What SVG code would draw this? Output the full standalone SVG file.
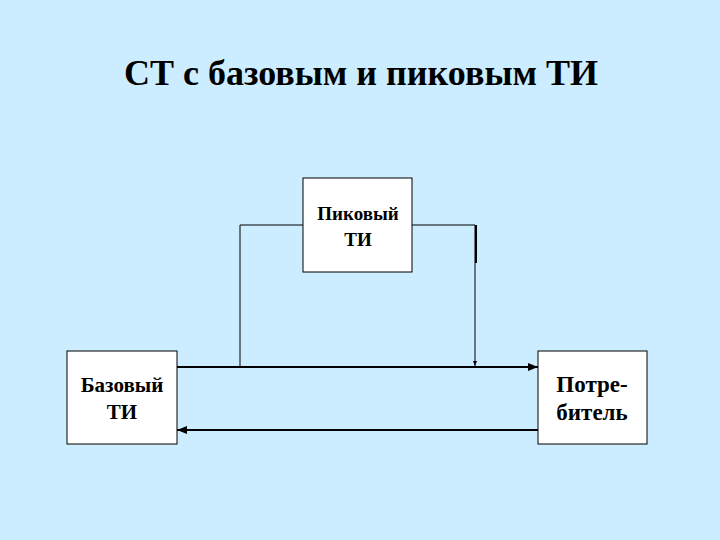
<svg xmlns="http://www.w3.org/2000/svg" width="720" height="540" viewBox="0 0 720 540">
<style>
.box{fill:#fff;stroke:#000;stroke-width:1}
text{font-family:'Liberation Serif','DejaVu Serif',serif;font-weight:bold;text-anchor:middle;fill:#000}
.ln{stroke:#000;fill:none}
</style>
<defs><marker id="a" viewBox="0 0 10 10" refX="10" refY="5" markerWidth="5" markerHeight="5" orient="auto"><path d="M0,1 L10,5 L0,9 z" fill="#000"/></marker></defs>
<rect width="720" height="540" fill="#CCECFF"/>
<text x="361" y="85" font-size="36" font-family="Liberation Serif, serif">СТ с базовым и пиковым ТИ</text>
<g id="connectors">
<path class="ln" d="M303,225 H240 V366"/>
<path class="ln" d="M412,225 H475 V366" marker-end="url(#a)"/>
<line class="ln" x1="476" y1="225" x2="476" y2="263" stroke-width="2"/>
<line class="ln" x1="177" y1="367" x2="538" y2="367" stroke-width="2" marker-end="url(#a)"/>
<line class="ln" x1="538" y1="430" x2="177" y2="430" stroke-width="2" marker-end="url(#a)"/>
</g>
<g id="peak"><rect class="box" x="303" y="178" width="109" height="94"/>
<text x="358" y="220" font-size="19" font-family="Liberation Serif, serif">Пиковый</text><text x="358" y="246" font-size="19" font-family="Liberation Serif, serif">ТИ</text></g>
<g id="base"><rect class="box" x="67" y="351" width="110" height="93"/>
<text x="122" y="392" font-size="21" font-family="Liberation Serif, serif">Базовый</text><text x="122" y="419" font-size="21" font-family="Liberation Serif, serif">ТИ</text></g>
<g id="consumer"><rect class="box" x="538" y="351" width="109" height="93"/>
<text x="592" y="392" font-size="23" font-family="Liberation Serif, serif">Потре-</text><text x="592" y="420" font-size="23" font-family="Liberation Serif, serif">битель</text></g>
</svg>
